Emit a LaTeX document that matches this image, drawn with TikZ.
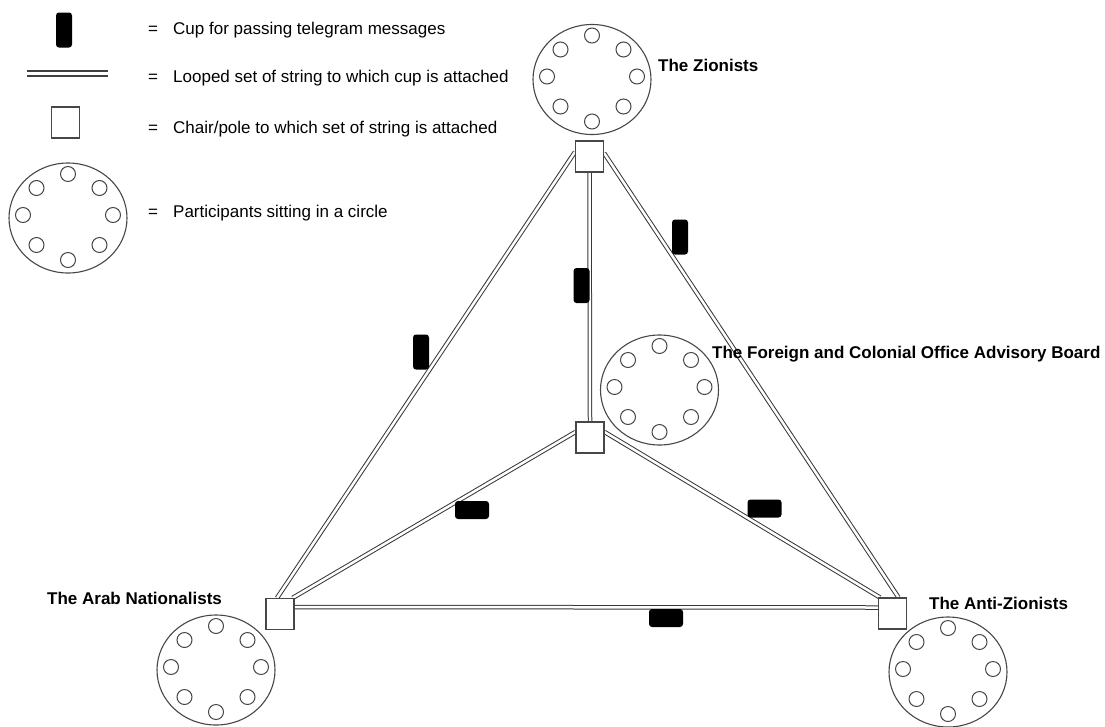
\documentclass[tikz,border=0pt]{standalone}
\usepackage{fontspec}
\setmainfont{Liberation Sans}
\usetikzlibrary{shapes.geometric}
\pgfdeclarelayer{bg}
\pgfsetlayers{bg,main}
\newcommand\seatring[1]{%
  \foreach \dx/\dy [count=\i] in {0/-44, 31.5/-30, 45/-3, 31.5/27, 0/42, -31.5/27, -45/-3, -31.5/-30}
    {\node[seat] (#1s\i) at ([shift={(\dx,\dy)}]#1.center) {};}%
}
\begin{document}
\begin{tikzpicture}[x=1pt,y=-1pt,
  string/.style={draw=black!78, line width=1pt, double=white, double distance=2.5pt},
  stringstroke/.style={draw=black!75, line width=1.1pt},
  pole/.style={rectangle, draw=black!72, fill=white, line width=1.1pt, minimum width=28pt, minimum height=31pt, inner sep=0pt},
  cupv/.style={rectangle, fill=black, rounded corners=3pt, minimum width=16pt, minimum height=35pt, inner sep=0pt},
  cuph/.style={rectangle, fill=black, rounded corners=3pt, minimum width=34pt, minimum height=18pt, inner sep=0pt},
  tablering/.style={ellipse, draw=black!72, line width=1.1pt, minimum width=118pt, minimum height=110pt, inner sep=0pt},
  seat/.style={circle, draw=black!72, line width=1pt, minimum size=15pt, inner sep=0pt},
  legendtext/.style={anchor=base west, inner sep=0pt, font=\fontsize{17}{20}\selectfont},
  grouplabel/.style={anchor=base west, inner sep=0pt, font=\fontsize{17}{20}\selectfont\bfseries},
]
\useasboundingbox (0,0) rectangle (1105,726);

% tables with participants
\node[tablering] (legtable) at (68,218) {};
\node[tablering] (zion) at (592,79.5) {};
\node[tablering] (fco) at (659.5,390) {};
\node[tablering] (arab) at (216,670) {};
\node[tablering] (anti) at (948,672) {};
\seatring{legtable}
\seatring{zion}
\seatring{fco}
\seatring{arab}
\seatring{anti}

% poles
\node[pole] (legpole) at (65.5,122.5) {};
\node[pole] (ptop) at (589.5,156.5) {};
\node[pole] (pcen) at (590,437.5) {};
\node[pole] (pbl) at (280,614) {};
\node[pole] (pbr) at (892.5,613.5) {};

% legend string sample: two parallel strokes
\coordinate (legAa) at (27,71);
\coordinate (legBa) at (108,71);
\coordinate (legAb) at (27,76);
\coordinate (legBb) at (108,76);
\draw[stringstroke] (legAa) -- (legBa);
\draw[stringstroke] (legAb) -- (legBb);

% strings (behind the poles)
\begin{pgfonlayer}{bg}
\fill[white] (0,0) rectangle (1105,726);
\draw[string] ([yshift=4.5pt]ptop.west) -- ([xshift=-3pt]pbl.north);
\draw[string] ([yshift=3.5pt]ptop.east) -- ([xshift=6pt]pbr.north);
\draw[string] (ptop.south) -- (pcen.north);
\draw[string] ([yshift=5.5pt]pcen.west) -- ([xshift=-2pt]pbl.north east);
\draw[string] ([yshift=5.5pt]pcen.east) -- ([xshift=2pt]pbr.north west);
\draw[string] ([yshift=7pt]pbl.east) -- ([yshift=6pt]pbr.west);
\end{pgfonlayer}

% cups
\node[cupv] (legcup) at (64,30) {};
\node[cupv] (cupleft) at (421,352) {};
\node[cupv] (cupmid) at (581.5,285.5) {};
\node[cupv] (cupright) at (680,237) {};
\node[cuph] (cupcl) at (472,510) {};
\node[cuph] (cupcr) at (764.5,508.5) {};
\node[cuph] (cupbot) at (666,618) {};

% legend texts
\node[legendtext] (eq1) at (148,34) {=};
\node[legendtext] (t1) at (173,34) {Cup for passing telegram messages};
\node[legendtext] (eq2) at (148,82) {=};
\node[legendtext] (t2) at (173,82) {Looped set of string to which cup is attached};
\node[legendtext] (eq3) at (148,133) {=};
\node[legendtext] (t3) at (173,133) {Chair/pole to which set of string is attached};
\node[legendtext] (eq4) at (148,217) {=};
\node[legendtext] (t4) at (173,217) {Participants sitting in a circle};

% group labels
\node[grouplabel] (lz) at (658,71) {The Zionists};
\node[grouplabel] (lf) at (712,358) {The Foreign and Colonial Office Advisory Board};
\node[grouplabel] (la) at (47,604) {The Arab Nationalists};
\node[grouplabel] (lanti) at (929,609) {The Anti-Zionists};
\end{tikzpicture}
\end{document}
